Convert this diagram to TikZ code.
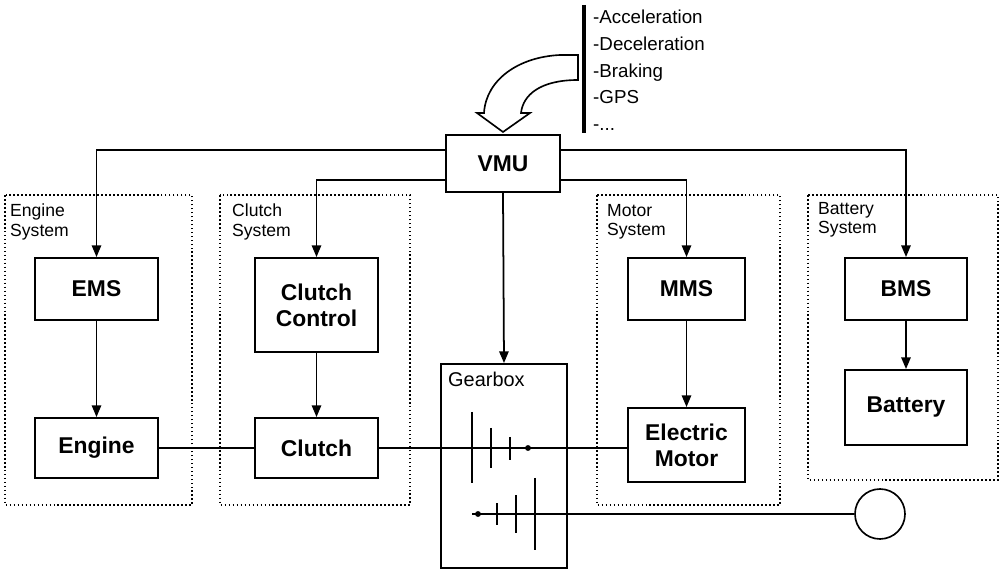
\documentclass[tikz,border=0pt]{standalone}
\usepackage{fontspec}
\setmainfont{Liberation Sans}
\usetikzlibrary{arrows.meta}
\begin{document}
\begin{tikzpicture}[x=0.03cm,y=-0.03cm,
  box/.style={draw,line width=1.6pt,font=\fontsize{19.5}{22}\selectfont\bfseries,align=center,inner sep=0pt},
  sys/.style={draw,dotted,line width=1.4pt},
  lbl/.style={font=\fontsize{15}{16.5}\selectfont,align=left,anchor=north west,inner sep=0pt},
  arr/.style={line width=1.5pt,-{Triangle[length=10pt,width=8pt]}},
  ln/.style={line width=1.5pt}]
\useasboundingbox (0,0) rectangle (1000,571);
% system boxes
\draw[sys] (5,195) rectangle (192,505);
\draw[sys] (220,195) rectangle (410,505);
\draw[sys] (597,195) rectangle (780,505);
\draw[sys] (808,195) rectangle (998,480);
\node[lbl] (l1) at (10,204) {Engine\\System};
\node[lbl] (l2) at (232,204) {Clutch\\System};
\node[lbl] (l3) at (607,204) {Motor\\System};
\node[lbl] (l4) at (818,202) {Battery\\System};
% boxes
\node[box,minimum width=3.42cm,minimum height=1.71cm] (vmu) at (503,163.5) {VMU};
\node[box,minimum width=3.69cm,minimum height=1.86cm] (ems) at (96.5,289) {EMS};
\node[box,minimum width=3.69cm,minimum height=1.8cm] (eng) at (96.5,448) {Engine};
\node[box,minimum width=3.69cm,minimum height=2.82cm] (cc) at (316.5,305) {Clutch\\Control};
\node[box,minimum width=3.69cm,minimum height=1.8cm] (cl) at (316.5,448) {Clutch};
\node[box,minimum width=3.51cm,minimum height=1.86cm] (mms) at (686.5,289) {MMS};
\node[box,minimum width=3.51cm,minimum height=2.22cm] (em) at (686.5,445) {Electric\\Motor};
\node[box,minimum width=3.66cm,minimum height=1.86cm] (bms) at (906,289) {BMS};
\node[box,minimum width=3.66cm,minimum height=2.25cm] (bat) at (906,407.5) {Battery};
\node[draw,line width=1.6pt,minimum width=3.78cm,minimum height=6.12cm,inner sep=0pt] (gb) at (504,466) {};
\node[lbl,font=\fontsize{17}{19}\selectfont] (gbl) at (448,372) {Gearbox};
% VMU connectors
\coordinate (a1) at (95,150); \coordinate (a2) at (905,150);
\coordinate (b1) at (316,180); \coordinate (b2) at (686,180);
\draw[arr] (vmu.west|-a1) -| (ems.north);
\draw[arr] (vmu.east|-a2) -| (bms.north);
\draw[arr] (vmu.west|-b1) -| (cc.north);
\draw[arr] (vmu.east|-b2) -| (mms.north);
\draw[arr] (vmu.south) -- (gb.north);
\draw[arr] (ems) -- (eng);
\draw[arr] (cc) -- (cl);
\draw[arr] (mms) -- (em);
\draw[arr] (bms) -- (bat);
% shafts
\draw[ln] (eng.east) -- (cl.west);
\draw[ln] (cl.east) -- (cl.east -| em.west);
\node[draw,circle,line width=1.4pt,minimum size=1.5cm,inner sep=0pt] (wh) at (880,514) {};
\coordinate (s2) at (472,514);
\draw[ln] (s2) -- (wh.west);
\draw[line width=2pt] (472,412) -- (472,483) (491,428) -- (491,468) (510,437) -- (510,460);
\fill (528,448) circle (2.5pt) (478,514) circle (2.5pt);
\draw[line width=2pt] (497,503) -- (497,525) (516,495) -- (516,533) (535,478) -- (535,550);
% inputs
\draw[line width=3pt] (584,5) -- (584,133);
\node[lbl,font=\fontsize{16}{22.8}\selectfont] (inp) at (593,10) {-Acceleration\\-Deceleration\\-Braking\\-GPS\\-...};
\draw[line width=1.4pt,fill=white] (578,55) -- (560,55) .. controls (518,57) and (486,80) .. (484,113) -- (477,113) -- (503,132) -- (530,113) -- (521,113) .. controls (523,95) and (540,80) .. (578,80) -- cycle;
\end{tikzpicture}
\end{document}
